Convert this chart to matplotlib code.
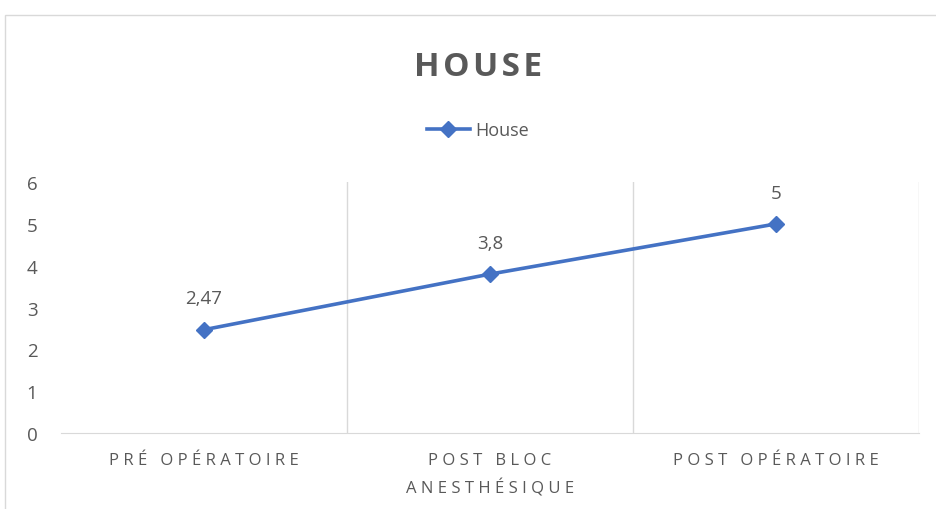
import matplotlib.pyplot as plt
from matplotlib.patches import Rectangle

plt.rcParams['font.family'] = ['Open Sans', 'DejaVu Sans']

# data
categories = ['PRÉ OPÉRATOIRE', 'POST BLOC\nANESTHÉSIQUE', 'POST OPÉRATOIRE']
values = [2.47, 3.8, 5]
value_labels = ['2,47', '3,8', '5']

blue = '#4472C4'
grey = '#595959'
grid = '#D9D9D9'


def spaced(s, gap='\u2009\u200a'):
    # imitate the wide letter spacing of the Excel labels
    return '\n'.join(gap.join(line) for line in s.split('\n'))


fig = plt.figure(figsize=(9.37, 5.10), dpi=100)
ax = fig.add_axes([0.0651, 0.149, 0.9157, 0.492])

# chart border (cropped picture: only left and top edges visible)
fig.patches.append(Rectangle((5 / 937, -0.1), 1.2, (510 - 16) / 510 + 0.1,
                             transform=fig.transFigure, fill=False,
                             edgecolor=grid, linewidth=1))

x = list(range(len(categories)))
ax.plot(x, values, color=blue, linewidth=2.6, marker='D', markersize=8,
        label='House', zorder=3)

for xi, v, lab in zip(x, values, value_labels):
    ax.annotate(lab, (xi, v), xytext=(0, 16), textcoords='offset points',
                ha='center', va='bottom', fontsize=13.5, color=grey)

ax.set_xlim(-0.5, 2.5)
ax.set_ylim(0, 6)
ax.set_yticks(range(0, 7))
ax.set_xticks(x)
ax.set_xticklabels([spaced(c) for c in categories], fontsize=12, color=grey,
                   linespacing=1.7)
ax.tick_params(axis='x', length=0, pad=14)
ax.tick_params(axis='y', length=0, pad=17, labelsize=13.5, labelcolor=grey)

for b in [0.5, 1.5, 2.5]:
    ax.axvline(b, color=grid, linewidth=1, zorder=1)

for side in ['top', 'right', 'left']:
    ax.spines[side].set_visible(False)
ax.spines['bottom'].set_color(grid)

fig.text(0.51, 0.868, spaced('HOUSE', '\u200a'), ha='center', va='center',
         fontsize=24, fontweight='bold', color=grey)
leg = fig.legend(loc='center', bbox_to_anchor=(0.51, 0.743), frameon=False,
                 fontsize=13, handlelength=2.4, handletextpad=0.3)
for t in leg.get_texts():
    t.set_color(grey)

fig.savefig('out.png', dpi=100)
